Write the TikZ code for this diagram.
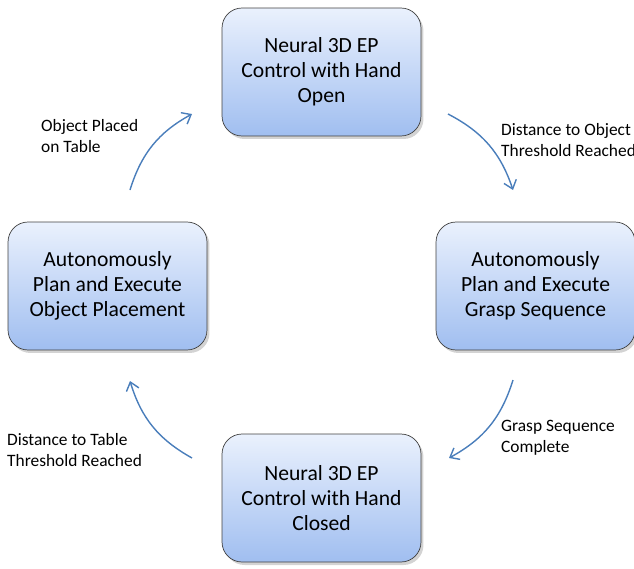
\documentclass[tikz,border=0pt]{standalone}
\usepackage{fontspec}
\setmainfont{Carlito}
\usetikzlibrary{shadows,arrows.meta}
\definecolor{boxtop}{RGB}{234,241,253}
\definecolor{boxbot}{RGB}{160,190,240}
\definecolor{boxline}{RGB}{64,64,64}
\definecolor{flowblue}{RGB}{74,126,187}
\begin{document}
\begin{tikzpicture}[
    x=0.02cm, y=-0.02cm,
    box/.style={draw=boxline, rounded corners=0.4cm, align=center, top color=boxtop, bottom color=boxbot,
        drop shadow={shadow xshift=0.05cm, shadow yshift=-0.06cm, opacity=0.35},
        minimum width=3.98cm, minimum height=2.56cm, font=\fontsize{12.3}{14.2}\selectfont},
    lbl/.style={align=left, anchor=west, font=\fontsize{9.9}{12}\selectfont},
    arrow/.style={-{Straight Barb[length=0.16cm,width=0.26cm]}, draw=flowblue, line width=0.8pt}
]
\useasboundingbox (0,0) rectangle (634,568);
\node[box] at (321.5,72) (open) {Neural 3D EP\\Control with Hand\\Open};
\node[box] at (535.5,286) (grasp) {Autonomously\\Plan and Execute\\Grasp Sequence};
\node[box] at (321.5,498) (closed) {Neural 3D EP\\Control with Hand\\Closed};
\node[box] at (107.5,286) (place) {Autonomously\\Plan and Execute\\Object Placement};

\node[lbl] at (495,140) (l1) {Distance to Object\\Threshold Reached};
\node[lbl] at (495,438) (l2) {Grasp Sequence\\Complete};
\node[lbl] at (1,450) (l3) {Distance to Table\\Threshold Reached};
\node[lbl] at (35,136) (l4) {Object Placed\\on Table};

% free ends of the arrows
\coordinate (a1) at (448,114);
\coordinate (b1) at (513,190);
\coordinate (a2) at (513,380);
\coordinate (b2) at (449,458);
\coordinate (a3) at (192,458);
\coordinate (b3) at (130,381);
\coordinate (a4) at (130,190);
\coordinate (b4) at (192,114);

\draw[arrow] (a1) to[bend left=22] (b1);
\draw[arrow] (a2) to[bend left=22] (b2);
\draw[arrow] (a3) to[bend left=22] (b3);
\draw[arrow] (a4) to[bend left=22] (b4);
\end{tikzpicture}
\end{document}
